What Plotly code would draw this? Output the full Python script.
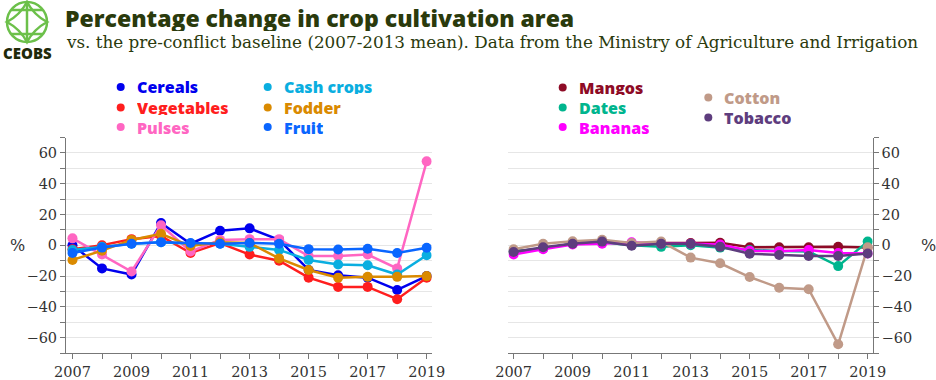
import math
import plotly.graph_objects as go

W, H = 936, 380

years = list(range(2007, 2020))

# Left panel series (% change vs 2007-2013 mean)
cereals    = [0, -15, -19, 14.5, 1, 9.5, 11, 3.5, -16, -19.5, -21, -29, -20]
vegetables = [-2.5, 0, 4, 6, -5, 1.5, -6, -10, -21, -27, -27, -35, -21]
pulses     = [4.5, -6, -17, 13, -4, 3.5, 4, 4, -7, -7, -6, -15, 54.5]
cash_crops = [-3, -1, 1, 2, 1, 1, -1, -3, -9.5, -12.5, -13, -19, -6.5]
fodder     = [-9.5, -3.5, 3.5, 7.5, -0.5, 2, 1.5, -8.5, -16, -21, -20.5, -20.5, -20]
fruit      = [-5, -1.5, 1, 2, 1.5, 1, 1.5, 1, -2.5, -2.7, -2.2, -5, -1.6]

# Right panel series
mangos  = [-4, -2, 1, 2, 1, 1.5, 1.5, 1.7, -1.3, -1.3, -1.3, -1, -1.5]
dates   = [-4, -2, 1, 2, 0, -1, 0, -1.5, -3, -3.7, -4, -13.5, 2.4]
bananas = [-6, -2.5, 0.5, 1, 2, 1, 1, 0.5, -3.5, -3.8, -3, -5, -5.3]
cotton  = [-2.6, 1, 2.6, 3.6, 1.5, 2.4, -8, -11.7, -20.6, -27.6, -28.5, -64.3, -1.3]
tobacco = [-4.3, -1.3, 1, 2.4, -0.3, 1, 1, -1, -5.5, -6.3, -7, -7, -5.3]

left_series = [
    ("Cereals", cereals, "#0000ee"),
    ("Vegetables", vegetables, "#ff1e1e"),
    ("Pulses", pulses, "#ff66c2"),
    ("Cash crops", cash_crops, "#0aaee0"),
    ("Fodder", fodder, "#da8a00"),
    ("Fruit", fruit, "#0a66ff"),
]
right_series = [
    ("Mangos", mangos, "#8e0b26"),
    ("Dates", dates, "#00b58e"),
    ("Bananas", bananas, "#ff00ff"),
    ("Cotton", cotton, "#c09a88"),
    ("Tobacco", tobacco, "#5e3d7e"),
]

x_labels = [2007, 2009, 2011, 2013, 2015, 2017, 2019]
y_labels = [-60, -40, -20, 0, 20, 40, 60]

TITLE_COLOR = "#2a3a0c"
SERIF = "DejaVu Serif"
SANS = "Open Sans"

fig = go.Figure()
for name, vals, col in left_series:
    fig.add_trace(go.Scatter(x=years, y=vals, name=name, mode="lines+markers",
                             line=dict(color=col, width=2.5),
                             marker=dict(color=col, size=10),
                             xaxis="x", yaxis="y", showlegend=False))
for name, vals, col in right_series:
    fig.add_trace(go.Scatter(x=years, y=vals, name=name, mode="lines+markers",
                             line=dict(color=col, width=2.5),
                             marker=dict(color=col, size=10),
                             xaxis="x2", yaxis="y2", showlegend=False))

def px(x):
    return x / W

def py(y):
    return 1 - y / H

axis_common = dict(
    showline=True, linecolor="#777", linewidth=1,
    ticks="outside", ticklen=5, tickcolor="#777",
    tickfont=dict(family=SERIF, size=14.5, color="#333"),
    zeroline=False, automargin=False, fixedrange=True,
)

xaxis_common = dict(axis_common, range=[2006.78, 2019.17], tickvals=x_labels,
                    showgrid=False,
                    minor=dict(tickvals=years, ticks="outside", ticklen=5, tickcolor="#777"))
yaxis_common = dict(axis_common, range=[-70, 70], tickvals=y_labels,
                    showgrid=True, gridcolor="#e6e6e6", gridwidth=1,
                    minor=dict(tickvals=list(range(-70, 71, 10)), ticks="outside", ticklen=5,
                               tickcolor="#777", showgrid=True, gridcolor="#e6e6e6"))

ydom = [py(353.1), py(137.5)]

fig.update_layout(
    width=W, height=H,
    margin=dict(l=0, r=0, t=0, b=0),
    paper_bgcolor="white", plot_bgcolor="white",
    xaxis=dict(xaxis_common, domain=[px(66), px(431.7)], anchor="y"),
    yaxis=dict(yaxis_common, domain=ydom, anchor="x", side="left"),
    xaxis2=dict(xaxis_common, domain=[px(508.3), px(872.7)], anchor="y2",
                range=[2006.82, 2019.17]),
    yaxis2=dict(yaxis_common, domain=ydom, anchor="x2", side="right"),
)

annotations = []
shapes = []

# Title and subtitle
annotations.append(dict(text="Percentage change in crop cultivation area",
                        x=px(64), y=py(18), xref="paper", yref="paper",
                        xanchor="left", yanchor="middle", showarrow=False,
                        height=26, valign="middle", borderpad=0,
                        font=dict(family=SANS, size=23, color=TITLE_COLOR, weight=800)))
annotations.append(dict(text="vs. the pre-conflict baseline (2007-2013 mean). Data from the Ministry of Agriculture and Irrigation",
                        x=px(64), y=py(54), xref="paper", yref="paper",
                        xanchor="left", yanchor="bottom", showarrow=False,
                        font=dict(family=SERIF, size=16.8, color=TITLE_COLOR)))

# Logo
G = "#6cc04a"
cx, cy, r = 27, 22, 20
shapes.append(dict(type="circle", xref="paper", yref="paper",
                   x0=px(cx - r), x1=px(cx + r), y0=py(cy + r), y1=py(cy - r),
                   line=dict(color=G, width=2.5)))
def P(x, y):
    return f"{px(x):.5f},{py(y):.5f}"
k = 7
path = (f"M {P(cx, cy - r)} Q {P(cx + k, cy - k)} {P(cx + r, cy)} "
        f"Q {P(cx + k, cy + k)} {P(cx, cy + r)} "
        f"Q {P(cx - k, cy + k)} {P(cx - r, cy)} "
        f"Q {P(cx - k, cy - k)} {P(cx, cy - r)} Z")
shapes.append(dict(type="path", xref="paper", yref="paper", path=path,
                   line=dict(color=G, width=2.5)))
shapes.append(dict(type="line", xref="paper", yref="paper",
                   x0=px(cx), x1=px(cx), y0=py(cy - r), y1=py(cy + r),
                   line=dict(color=G, width=2.5)))
for dy in (-12, 12):
    hw = math.sqrt(r * r - dy * dy)
    shapes.append(dict(type="line", xref="paper", yref="paper",
                       x0=px(cx - hw), x1=px(cx + hw), y0=py(cy + dy), y1=py(cy + dy),
                       line=dict(color=G, width=2.5)))
annotations.append(dict(text="CEOBS", x=px(27), y=py(53), xref="paper", yref="paper",
                        xanchor="center", yanchor="middle", showarrow=False,
                        font=dict(family=SANS, size=15, color="#1f2a0a", weight=800)))

# Legends
def legend_entry(name, col, dx, ty):
    shapes.append(dict(type="circle", xref="paper", yref="paper",
                       x0=px(dx - 4), x1=px(dx + 4), y0=py(ty + 4), y1=py(ty - 4),
                       fillcolor=col, line=dict(width=0)))
    annotations.append(dict(text=name, x=px(dx + 15), y=py(ty),
                            xref="paper", yref="paper", xanchor="left", yanchor="middle",
                            showarrow=False, borderpad=0, height=15, valign="middle",
                            font=dict(family=SANS, size=16, color=col, weight=800)))

left_pos = [(120.7, 87), (120.7, 107.5), (120.7, 127), (267.7, 87), (267.7, 107.5), (267.7, 127)]
for (name, _, col), (dx, ty) in zip(left_series, left_pos):
    legend_entry(name, col, dx, ty)
right_pos = [(562.7, 87.5), (562.7, 107.5), (562.7, 127), (708.3, 97.5), (708.3, 117.5)]
for (name, _, col), (dx, ty) in zip(right_series, right_pos):
    legend_entry(name, col, dx, ty)

# % labels
annotations.append(dict(text="%", x=px(17), y=py(245), xref="paper", yref="paper",
                        xanchor="center", yanchor="middle", showarrow=False,
                        font=dict(family=SERIF, size=16, color="#333")))
annotations.append(dict(text="%", x=px(928), y=py(245), xref="paper", yref="paper",
                        xanchor="center", yanchor="middle", showarrow=False,
                        font=dict(family=SERIF, size=16, color="#333")))

fig.update_layout(annotations=annotations, shapes=shapes)
fig.write_html("out.html", config={"displayModeBar": False},
               post_script="document.body.style.margin='0';document.body.style.overflow='hidden';")
